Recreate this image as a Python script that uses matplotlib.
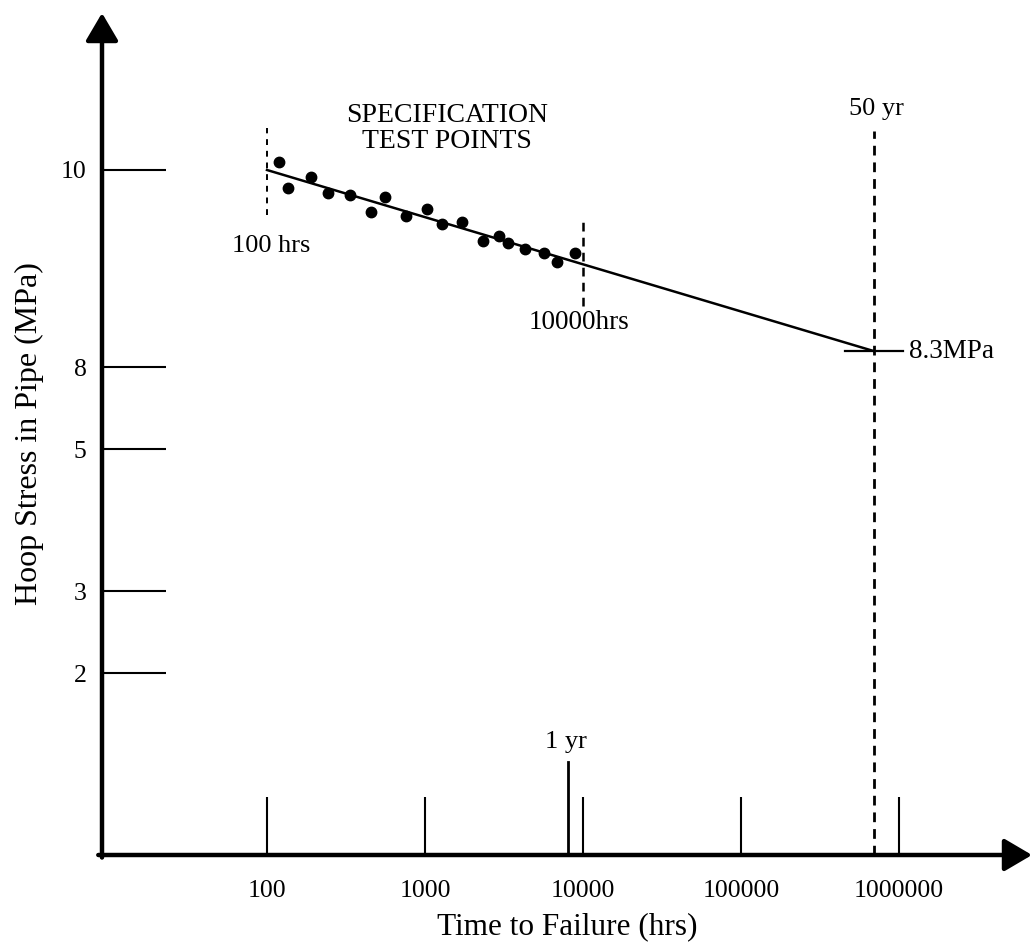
import numpy as np
import matplotlib
matplotlib.use('Agg')
import matplotlib.pyplot as plt
from matplotlib.ticker import NullLocator, FixedLocator, FixedFormatter
from matplotlib.patches import ArrowStyle

plt.rcParams['font.family'] = ['Liberation Serif', 'DejaVu Serif']

# ---- data ----
test_hours = [119, 136, 190, 243, 335, 455, 558, 758, 1030, 1282, 1715,
              2328, 2940, 3350, 4295, 5665, 6845, 8890]
test_stress = [10.075, 9.831, 9.934, 9.784, 9.765, 9.606, 9.746, 9.568,
               9.634, 9.493, 9.512, 9.333, 9.380, 9.314, 9.258, 9.220,
               9.136, 9.220]
fit_hours = [100, 690000]
fit_stress = [10.0, 8.3]
x_ticks = [100, 1000, 10000, 100000, 1000000]
x_tick_labels = ['100', '1000', '10000', '100000', '1000000']
y_ticks = [2, 3, 5, 8, 10]
y_tick_labels = ['2', '3', '5', '8', '10']
one_year_hours = 8000
fifty_year_hours = 690000
design_stress = 8.3
spec_start_hours = 100
spec_end_hours = 10000

# schematic (non-uniform) stress axis: knots of stress -> relative height
stress_knots = [0, 2, 3, 5, 8, 8.3, 10, 11.474]
height_knots = [0, 182, 264, 406, 488, 504, 685, 842]


def fwd(v):
    return np.interp(v, stress_knots, height_knots)


def inv(p):
    return np.interp(p, height_knots, stress_knots)


W, H = 1033, 947
fig = plt.figure(figsize=(W / 100, H / 100), dpi=100)
ax = fig.add_axes([102 / W, (H - 855) / H, (1032 - 102) / W, (855 - 13) / H])

ax.set_xscale('log')
ax.set_yscale('function', functions=(fwd, inv))
ax.set_xlim(9.03, 6.95e6)
ax.set_ylim(0, 11.474)

for s in ax.spines.values():
    s.set_visible(False)

ax.xaxis.set_major_locator(FixedLocator(x_ticks))
ax.xaxis.set_major_formatter(FixedFormatter(x_tick_labels))
ax.xaxis.set_minor_locator(NullLocator())
ax.yaxis.set_major_locator(FixedLocator(y_ticks))
ax.yaxis.set_major_formatter(FixedFormatter(y_tick_labels))
ax.yaxis.set_minor_locator(NullLocator())
ax.tick_params(axis='x', which='major', direction='in', length=41.8,
               width=1.5, pad=18, labelsize=18.5)
ax.tick_params(axis='y', which='major', direction='in', length=46,
               width=1.5, pad=11, labelsize=18.5)

ax.set_xlabel('Time to Failure (hrs)', fontsize=22.5, labelpad=7)
ax.set_ylabel('Hoop Stress in Pipe (MPa)', fontsize=23, labelpad=12)

# axis lines with arrowheads
astyle = ArrowStyle('-|>', head_length=0.85, head_width=0.5)
ax.annotate('', xy=(0, 1), xytext=(0, -0.003), xycoords='axes fraction',
            arrowprops=dict(arrowstyle=astyle, lw=3.2, color='black',
                            mutation_scale=20, shrinkA=0, shrinkB=0),
            annotation_clip=False)
ax.annotate('', xy=(1, 0), xytext=(-0.004, 0), xycoords='axes fraction',
            arrowprops=dict(arrowstyle=astyle, lw=3.2, color='black',
                            mutation_scale=20, shrinkA=0, shrinkB=0),
            annotation_clip=False)

# data points and fitted line
ax.plot(test_hours, test_stress, 'o', color='black', markersize=7.5,
        zorder=3, clip_on=False)
ax.plot(fit_hours, fit_stress, '-', color='black', lw=1.8, clip_on=False)

# specification window markers
ax.plot([spec_start_hours] * 2, [9.577, 10.394], color='black', lw=1.4,
        dashes=(3, 3))
ax.plot([spec_end_hours] * 2, [8.723, 9.549], color='black', lw=1.8,
        dashes=(3.5, 2.5))

# 50 year line
ax.axvline(fifty_year_hours, ymin=0, ymax=(855 - 131) / 842, color='black',
           lw=2.0, dashes=(3.5, 2.5))
# 8.3 MPa marker
ax.plot([455000, 1060000], [design_stress] * 2, color='black', lw=1.6)
# 1 year tick
ax.axvline(one_year_hours, ymin=0, ymax=93 / 842, color='black', lw=2.0)

# annotations
ax.text(1377, 10.39, 'SPECIFICATION\nTEST POINTS', ha='center', va='center',
        fontsize=20, linespacing=1.04)
ax.annotate('100 hrs', xy=(spec_start_hours, 9.577), xytext=(3, -22),
            textcoords='offset points', ha='center', va='center',
            fontsize=19)
ax.annotate('10000hrs', xy=(spec_end_hours, 8.723), xytext=(-3, -12),
            textcoords='offset points', ha='center', va='center',
            fontsize=19.5)
ax.annotate('50 yr', xy=(fifty_year_hours, 10.376), xytext=(2, 15),
            textcoords='offset points', ha='center', va='center',
            fontsize=19)
ax.annotate('8.3MPa', xy=(1060000, design_stress), xytext=(4, 0),
            textcoords='offset points', ha='left', va='center',
            fontsize=19.5)
ax.annotate('1 yr', xy=(one_year_hours, 1.044), xytext=(-1, 13),
            textcoords='offset points', ha='center', va='center',
            fontsize=19)

fig.savefig('out.png', dpi=100)
